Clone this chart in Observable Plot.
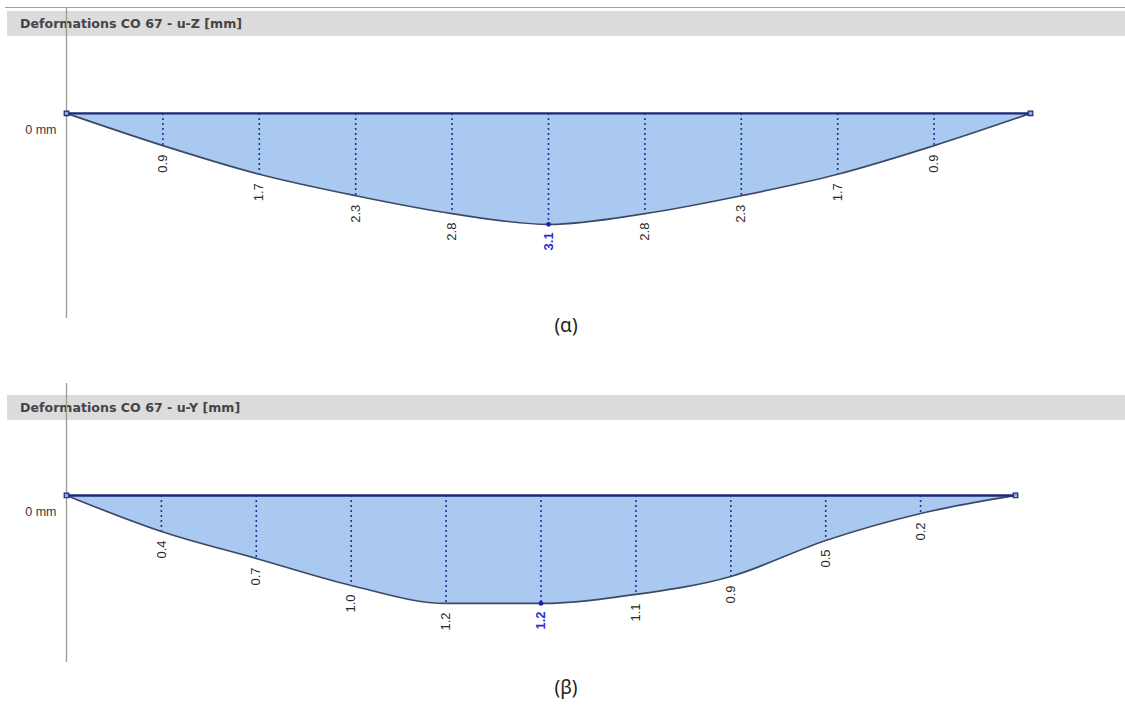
<!DOCTYPE html>
<html>
<head>
<meta charset="utf-8">
<script src="https://cdn.jsdelivr.net/npm/d3@7"></script>
<script src="https://cdn.jsdelivr.net/npm/@observablehq/plot@0.6"></script>
<style>
  html, body { margin: 0; padding: 0; background: #fff; }
  #page { position: relative; width: 1125px; height: 716px; overflow: hidden; background: #fff; }
  .topline { position: absolute; left: 5px; right: 0; height: 1px; background: #a0a0a0; }
  .header { position: absolute; left: 7px; right: 0; height: 25px; background: #dcdcdc;
            font: bold 12.6px "DejaVu Sans", sans-serif; color: #454545;
            line-height: 25px; padding-left: 13px; box-sizing: border-box; }
  .panel { position: absolute; left: 0; top: 0; }
  .caption { position: absolute; left: 0; width: 1132px; text-align: center;
             font: 19px "Noto Sans", sans-serif; color: #222; }
</style>
</head>
<body>
<div id="page"></div>
<script>
// Stations along the beam, in tenths of the span (0 = left support, 10 = right support)
const stations = [0, 1, 2, 3, 4, 5, 6, 7, 8, 9, 10];

// Deflection u-Z [mm] at each station, combination CO 67
const uZ = [0, 0.9, 1.7, 2.3, 2.8, 3.1, 2.8, 2.3, 1.7, 0.9, 0];
// Deflection u-Y [mm] at each station, combination CO 67
const uY = [0, 0.4, 0.7, 1.0, 1.2, 1.2, 1.1, 0.9, 0.5, 0.2, 0];

// Station carrying the governing (highlighted) value
const peakZ = 5;
const peakY = 5;

const titles = ["Deformations CO 67 - u-Z [mm]", "Deformations CO 67 - u-Y [mm]"];
const captions = ["(α)", "(β)"];
const zeroLabel = ["0 mm"];

const page = document.getElementById("page");
const labelFont = "Liberation Sans, Arial, sans-serif";

function deformationPanel({values, peak, yDomain, height, marginTop, marginBottom, right}) {
  const rows = stations.map((s, i) => ({s, v: values[i]}));
  const inner = rows.filter((d) => d.s > 0 && d.s < 10);
  const plain = inner.filter((d) => d.s !== peak);
  const top = inner.filter((d) => d.s === peak);
  return Plot.plot({
    width: 1125,
    height,
    marginLeft: 66,
    marginRight: 1125 - right,
    marginTop,
    marginBottom,
    x: {domain: [0, 10], axis: null},
    y: {domain: yDomain, reverse: true, axis: null},
    style: {background: "transparent", overflow: "visible"},
    marks: [
      Plot.areaY(rows, {x: "s", y: "v", fill: "#a9c9f0", curve: "monotone-x"}),
      Plot.ruleX(inner, {x: "s", y1: 0, y2: "v", stroke: "#1d3596", strokeWidth: 1.6, strokeDasharray: "2,3"}),
      Plot.lineY(rows, {x: "s", y: "v", stroke: "#3b4866", strokeWidth: 1.7, curve: "monotone-x"}),
      Plot.ruleY([0], {x1: 0, x2: 10, stroke: "#1f2878", strokeWidth: 2.4}),
      Plot.ruleX([0], {stroke: "#9a9a9a", strokeWidth: 1.3}),
      Plot.dot([0, 10], {x: (d) => d, y: 0, symbol: "square", r: 2.6, stroke: "#1f2878", strokeWidth: 1.2, fill: "#8fa8d8"}),
      Plot.dot(top, {x: "s", y: "v", r: 2.4, fill: "#1f1fb8"}),
      Plot.text(plain, {x: "s", y: "v", text: (d) => d.v.toFixed(1), rotate: -90, textAnchor: "end",
        dy: 9, fill: "#2a2a2a", fontSize: 13, fontFamily: labelFont}),
      Plot.text(top, {x: "s", y: "v", text: (d) => d.v.toFixed(1), rotate: -90, textAnchor: "end",
        dy: 8, fill: "#2b2bd6", fontWeight: "bold", fontSize: 13, fontFamily: labelFont}),
      Plot.text(zeroLabel, {x: 0, y: 0, text: (d) => d, dx: -10, dy: 17, textAnchor: "end",
        fill: "#3a3a3a", fontSize: 12.5, fontFamily: labelFont})
    ]
  });
}

function place(el, top) {
  el.classList.add("panel");
  el.style.top = top + "px";
  page.appendChild(el);
}

function div(cls, css, text) {
  const d = document.createElement("div");
  d.className = cls;
  Object.assign(d.style, css);
  if (text) d.textContent = text;
  page.appendChild(d);
  return d;
}

// (α) vertical deflection
div("topline", {top: "7px"});
div("header", {top: "11px"}, titles[0]);
place(deformationPanel({
  values: uZ, peak: peakZ,
  yDomain: [-2.93, 5.73], height: 320, marginTop: 8, marginBottom: 2, right: 1030
}), 0);
div("caption", {top: "312px"}, captions[0]);

// (β) lateral deflection
div("header", {top: "395px"}, titles[1]);
place(deformationPanel({
  values: uY, peak: peakY,
  yDomain: [-1.244, 1.856], height: 290, marginTop: 8, marginBottom: 3, right: 1015
}), 375);
div("caption", {top: "674px"}, captions[1]);
</script>
</body>
</html>
